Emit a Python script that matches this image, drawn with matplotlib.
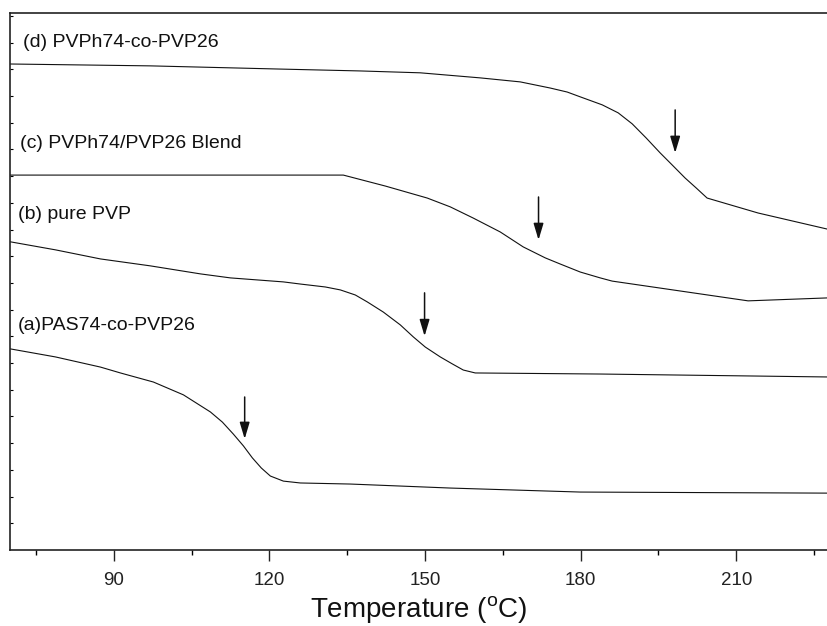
import matplotlib
matplotlib.use('Agg')
import matplotlib.pyplot as plt

plt.rcParams['font.family'] = ['Liberation Sans', 'DejaVu Sans']
plt.rcParams['mathtext.fontset'] = 'custom'
plt.rcParams['mathtext.rm'] = 'Liberation Sans'

# DSC traces (temperature in C, signal in arbitrary units)
t_a = [70.10, 78.77, 87.44, 91.29, 97.65, 103.43, 108.63, 110.94, 113.06, 114.99, 116.72,
       118.45, 120.19, 122.70, 125.97, 135.61, 154.87, 179.93, 227.51]
y_a = [7.53, 7.23, 6.85, 6.63, 6.29, 5.81, 5.17, 4.79, 4.34, 3.90, 3.45,
       3.07, 2.77, 2.58, 2.51, 2.47, 2.32, 2.17, 2.13]

t_b = [70.10, 78.77, 87.44, 97.07, 106.71, 112.49, 122.70, 125.97, 130.79, 133.68, 136.57,
       138.88, 141.97, 145.24, 147.75, 150.06, 152.95, 155.26, 157.38, 159.69, 183.78, 227.51]
y_b = [11.54, 11.24, 10.90, 10.64, 10.34, 10.19, 10.04, 9.96, 9.85, 9.74, 9.55,
       9.29, 8.91, 8.43, 7.98, 7.60, 7.23, 6.97, 6.74, 6.63, 6.59, 6.48]

t_c = [70.10, 134.26, 142.35, 150.44, 154.87, 159.31, 164.51, 168.94, 173.18, 176.07,
       179.93, 183.78, 186.09, 199.19, 212.29, 227.51]
y_c = [14.04, 14.04, 13.63, 13.18, 12.85, 12.43, 11.91, 11.35, 10.94, 10.71,
       10.41, 10.19, 10.07, 9.70, 9.33, 9.44]

t_d = [70.10, 97.07, 122.12, 137.53, 149.09, 160.66, 168.37, 174.15, 177.42, 179.93, 184.17,
       187.25, 189.94, 192.64, 195.34, 197.65, 200.15, 202.27, 204.39, 214.22, 227.51]
y_d = [18.20, 18.13, 18.01, 17.94, 17.87, 17.68, 17.53, 17.30, 17.15, 16.97, 16.67,
       16.37, 15.96, 15.43, 14.87, 14.42, 13.93, 13.56, 13.18, 12.62, 12.02]

# glass transition arrows: temperature, top, tip
arrow_t = [115.24, 149.92, 171.89, 198.23]
arrow_top = [5.73, 9.63, 13.22, 16.48]
arrow_tip = [4.16, 8.01, 11.61, 14.87]

names = ['(a)PAS74-co-PVP26', '(b) pure PVP', '(c) PVPh74/PVP26 Blend', '(d) PVPh74-co-PVP26']
name_t = [71.45, 71.45, 72.02, 72.41]
name_y = [8.39, 12.55, 15.21, 18.99]

fig = plt.figure(figsize=(8.27, 6.26), dpi=100)
ax = fig.add_axes([10/827, 76/626, 1 - 10/827, 537/626])

for t, y in [(t_a, y_a), (t_b, y_b), (t_c, y_c), (t_d, y_d)]:
    ax.plot(t, y, color='#111111', lw=0.8)

for i in range(len(arrow_t)):
    ax.annotate('', xy=(arrow_t[i], arrow_tip[i]), xytext=(arrow_t[i], arrow_top[i]),
                arrowprops=dict(arrowstyle='-|>,head_length=1.0,head_width=0.3',
                                color='#111111', lw=1.1, mutation_scale=10,
                                shrinkA=0, shrinkB=0))

for i in range(len(names)):
    ax.text(name_t[i], name_y[i], names[i], fontsize=14, va='center', ha='left', color='#111111')

ax.set_xlim(70, 227.5)
ax.set_ylim(0, 20.11)
ax.set_xticks([90, 120, 150, 180, 210])
ax.set_xticks([75, 105, 135, 165, 195, 225], minor=True)
ax.set_yticks(range(1, 21))
ax.set_yticklabels([])
ax.tick_params(axis='x', which='major', direction='out', length=8, width=1, pad=8, labelsize=13.5, colors='#222222')
ax.tick_params(axis='x', which='minor', direction='out', length=3.6, width=1)
ax.tick_params(axis='y', direction='in', length=2, width=0.8)
ax.spines['right'].set_visible(False)
for s in ['left', 'top', 'bottom']:
    ax.spines[s].set_linewidth(1.2)
    ax.spines[s].set_color('#222222')

ax.set_xlabel(r'Temperature ($^{\mathrm{o}}$C)', fontsize=20, labelpad=4, color='#111111')

fig.savefig('out.png', dpi=100)
